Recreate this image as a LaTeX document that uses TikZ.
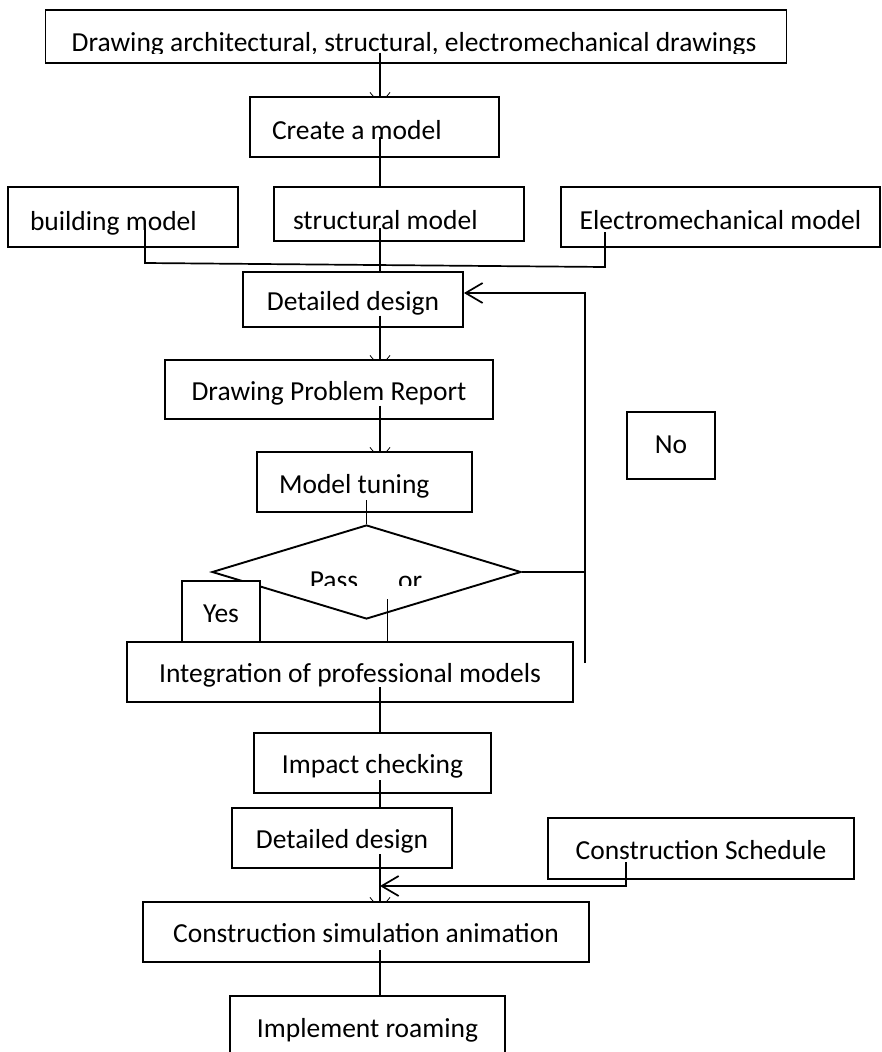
\documentclass[tikz,border=0pt]{standalone}
\usepackage{fontspec}
\setmainfont{Carlito}
\usetikzlibrary{shapes.geometric,arrows.meta}

\begin{document}
\begin{tikzpicture}[
        x=1pt, y=-1pt,
        font=\fontsize{27.5}{32}\selectfont,
        box/.style={draw, line width=1.9pt, fill=white, inner sep=0pt,
            text height=22pt, text depth=1pt},
        decision/.style={diamond, aspect=3.3, draw, line width=1.9pt,
            fill=white, inner sep=0pt},
        link/.style={line width=1.7pt},
        tick/.style={link, -{Straight Barb[length=12pt,width=20pt,line width=0.8pt]}},
        back/.style={link, -{Straight Barb[length=17pt,width=20pt]}}
    ]
    \useasboundingbox (0,0) rectangle (882,1052);
    \coordinate (axis) at (380,0);

    \node[box, minimum width=741, minimum height=53] (drawings) at (416,36.5) {};
    \begin{scope}
        \clip (50,12) rectangle (780,53.5);
        \node[anchor=base, inner sep=0pt] (drawings text) at (414,51)
            {Drawing architectural, structural, electromechanical drawings};
    \end{scope}
    \node[box, minimum width=249, minimum height=60, text width=205pt, align=flush left, text height=26pt]
        (create) at (374.5,127) {Create a model};
    \node[box, minimum width=230, minimum height=60, text width=186pt, align=flush left, text height=28pt]
        (building) at (123,217) {building model};
    \node[box, minimum width=250, minimum height=54, text width=212pt, align=flush left, text height=32pt]
        (structural) at (399,214) {structural model};
    \node[box, minimum width=319, minimum height=60, text height=26pt]
        (electro) at (720.5,217) {Electromechanical model};
    \node[box, minimum width=220, minimum height=55] (design) at (353,299.5) {Detailed design};
    \node[box, minimum width=328, minimum height=59] (report) at (329,389.5) {Drawing Problem Report};
    \node[box, minimum width=215, minimum height=60, text width=171pt, align=flush left, text height=24pt]
        (tuning) at (364.5,482) {Model tuning};
    \node[decision, minimum width=309, minimum height=94] (pass) at (366.5,572) {};
    \begin{scope}
        \clip (290,555) rectangle (445,585);
        \node[anchor=base, inner sep=0pt] (pass text) at (366,589.5) {Pass\hspace{40pt}or};
    \end{scope}
    \node[box, minimum width=78, minimum height=61] (yes) at (221,611.5) {Yes};
    \node[box, minimum width=88, minimum height=67, text height=16pt] (no) at (671,445.5) {No};
    \node[box, minimum width=446, minimum height=60] (integrate) at (350,672) {Integration of professional models};
    \node[box, minimum width=237, minimum height=60] (impact) at (372.5,763) {Impact checking};
    \node[box, minimum width=220, minimum height=60] (design2) at (342,838) {Detailed design};
    \node[box, minimum width=306, minimum height=61] (schedule) at (701,848.5) {Construction Schedule};
    \node[box, minimum width=446, minimum height=60] (simulate) at (366,932) {Construction simulation animation};
    \node[box, minimum width=275, minimum height=70, text height=14pt] (roam) at (367.5,1031) {Implement roaming};

    % arrow heads that end under the next box
    \foreach \from/\to in {drawings/create, design/report, report/tuning, design2/simulate} {
        \begin{scope}
            \clip ([xshift=-30pt]axis |- \from.center) rectangle ([xshift=30pt]axis |- \to.north);
            \draw[tick] ([yshift=-16pt]axis |- \from.center) -- ([yshift=-9pt]axis |- \to.north);
        \end{scope}
    }

    \draw[link] ([yshift=-10pt]axis |- create.center) -- (axis |- structural.north);
    \draw[link] ([yshift=-14pt]axis |- structural.center) -- (axis |- design.north);
    \coordinate (left drop) at (145,263);
    \coordinate (right drop) at (605,267);
    \draw[link] ([shift={(22,11)}]building.center) -- (left drop) -- (right drop)
        -- ([shift={(-115.5,15)}]electro.center);

    \draw[link] ([yshift=-18pt]pass.north |- tuning.center) -- (pass.north);
    \draw[link] ([shift={(21,27)}]pass.center) coordinate (p) -- (p |- integrate.north);
    \draw[link] ([yshift=-15pt]axis |- integrate.center) -- (axis |- impact.north);
    \draw[link] ([yshift=-17pt]axis |- impact.center) -- (axis |- design2.north);
    \draw[link] ([yshift=-18pt]axis |- simulate.center) -- (axis |- roam.north);

    \coordinate (bend) at (626,886);
    \coordinate (merge) at (380,886);
    \draw[back] ([shift={(-75,13.5)}]schedule.center) -- (bend) -- (merge);

    % the "No" branch back to the design step
    \coordinate (loop top) at (585,293);
    \coordinate (loop end) at (585,663);
    \draw[link] (pass.east) -- (pass.east -| loop top);
    \draw[back] (loop end) -- (loop top) -- (loop top -| design.east);
\end{tikzpicture}
\end{document}
